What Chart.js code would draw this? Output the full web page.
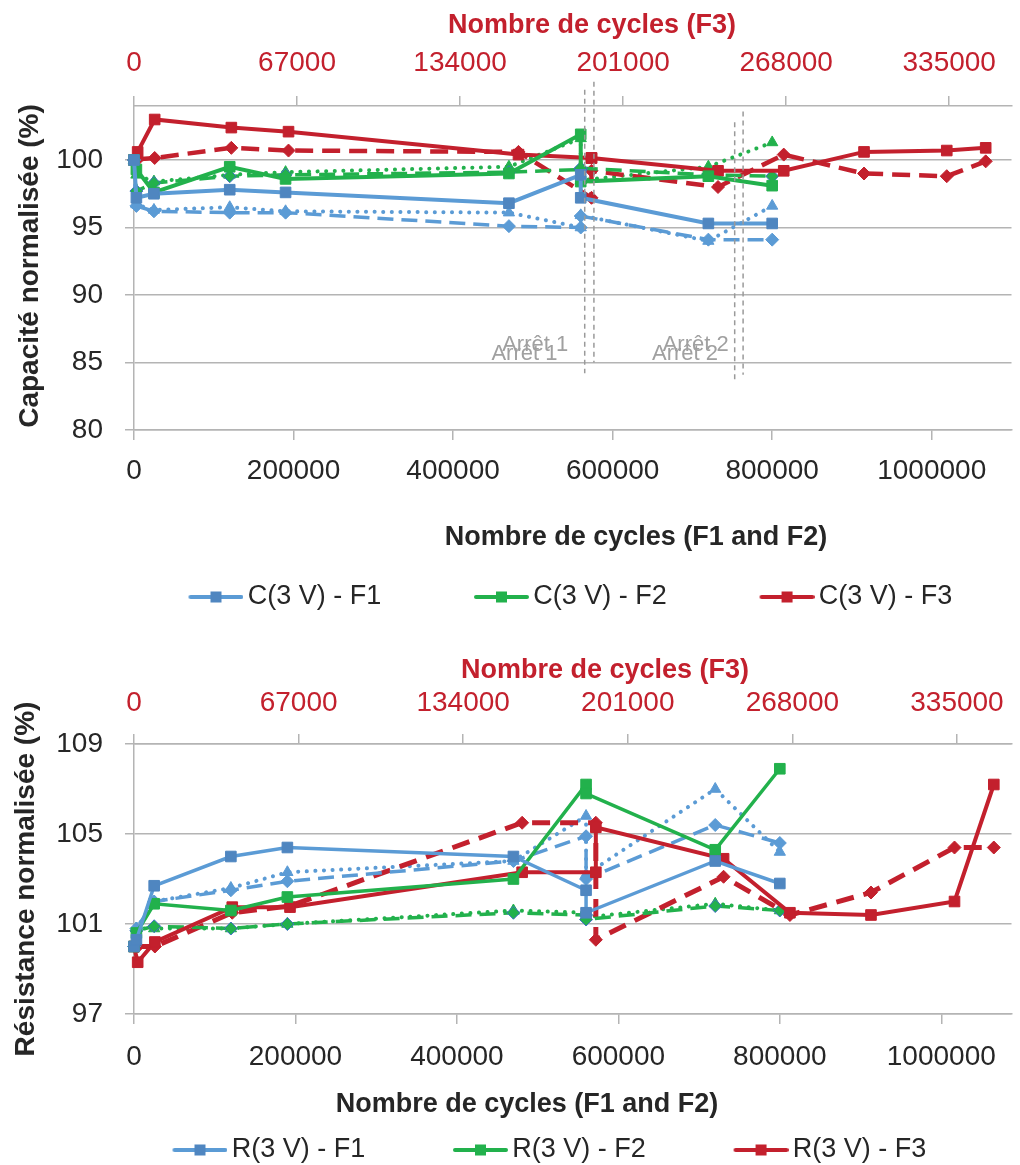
<!DOCTYPE html>
<html>
<head>
<meta charset="utf-8">
<script src="https://cdn.jsdelivr.net/npm/chart.js@4.4.0/dist/chart.umd.min.js"></script>
<style>
  body { margin: 0; background: #fff; width: 1020px; height: 1165px; overflow: hidden; position: relative; }
  canvas { position: absolute; left: 0; }
  #capChart { top: 0; }
  #resChart { top: 640px; }
</style>
</head>
<body>
<canvas id="capChart" width="1020" height="640"></canvas>
<canvas id="resChart" width="1020" height="540"></canvas>
<script>
const FONT = "'Liberation Sans', Arial, sans-serif";
const RED = '#c3202d', BLUE = '#5b9bd5', BLUE_M = '#4f86c0', GREEN = '#22b14c';
const GRID = '#b4b4b4', TXT = '#262626';

// cycles (x values)
const cyclesF12 = [0, 3000, 25000, 120000, 190000, 470000, 560000, 560000, 720000, 800000];
const cyclesF3 = [0, 1500, 8500, 40000, 63500, 158000, 188000, 188000, 240000, 267000, 300000, 334000, 350000];

// tick labels
const ticksF12 = [0, 200000, 400000, 600000, 800000, 1000000];
const ticksF3 = [0, 67000, 134000, 201000, 268000, 335000];
const ticksCap = [80, 85, 90, 95, 100];
const ticksRes = [97, 101, 105, 109];

// capacity (%)
const capF1 = [100, 97.2, 97.5, 97.8, 97.6, 96.8, 98.9, 97.2, 95.3, 95.3];
const capF1dot = [100, 96.7, 96.3, 96.5, 96.2, 96.1, 95.0, 95.9, 94.0, 96.6];
const capF1dash = [100, 96.6, 96.2, 96.1, 96.1, 95.1, 95.0, 95.85, 94.1, 94.1];
const capF2 = [100, 99.3, 97.6, 99.5, 98.6, 99.0, 101.9, 98.4, 98.8, 98.1];
const capF2dot = [100, 98.9, 98.4, 98.9, 99.1, 99.5, 101.6, 98.5, 99.5, 101.3];
const capF2dash = [100, 97.7, 98.3, 98.8, 98.9, 99.1, 99.3, 99.4, 98.9, 98.8];
const capF3 = [100, 100.6, 103.0, 102.4, 102.1, 100.4, 100.15, 100.15, 99.2, 99.2, 100.6, 100.7, 100.9];
const capF3dash = [100, 100.05, 100.15, 100.9, 100.7, 100.6, 97.2, 99.2, 98.0, 100.4, 99.0, 98.8, 99.9];

// resistance (%)
const resF1 = [100, 100.3, 102.7, 104.0, 104.4, 104.0, 102.5, 101.5, 103.8, 102.8];
const resF1dot = [100, 100.8, 102.0, 102.6, 103.3, 103.8, 105.8, 103.2, 107.0, 104.2];
const resF1dash = [100, 100.8, 102.0, 102.5, 102.9, 103.8, 104.9, 103.0, 105.4, 104.6];
const resF2 = [100, 100.6, 101.9, 101.6, 102.2, 103.0, 107.2, 106.8, 104.3, 107.9];
const resF2dot = [100, 100.8, 100.8, 100.8, 101.0, 101.6, 101.5, 101.3, 101.9, 101.6];
const resF2dash = [100, 100.7, 100.9, 100.8, 101.0, 101.5, 101.4, 101.2, 101.8, 101.6];
const resF3 = [100.0, 99.3, 100.2, 101.75, 101.75, 103.3, 103.3, 105.3, 103.9, 101.5, 101.4, 102.0, 107.2];
const resF3dash = [100.0, 100.0, 100.0, 101.5, 101.8, 105.5, 105.5, 100.3, 103.1, 101.4, 102.4, 104.4, 104.4];

// arrêts (stops) on the capacity chart
const arretNames = ['Arrêt 1', 'Arrêt 2'];
const arretF12 = [565000, 753000];
const arretF3 = [189000, 250300];
const arretTopF12 = [105.2, 102.8], arretBotF12 = [84.2, 83.5];
const arretTopF3 = [105.8, 103.6], arretBotF3 = [85.0, 84.1];
const arretLabelF12 = [489400, 690700], arretLabelF3 = [164850, 230800];
const arretLabelY = [85.6, 86.3];

// excel-like legend sample: line with a square, right part of a wider box
function legendIcon(boxW, lineColor, boxColor) {
  const c = document.createElement('canvas');
  const w = Math.round(boxW + 18);
  c.width = w; c.height = 14;
  const g = c.getContext('2d');
  g.strokeStyle = lineColor; g.lineWidth = 4; g.lineCap = 'round';
  g.beginPath(); g.moveTo(w - 53, 7); g.lineTo(w - 2, 7); g.stroke();
  g.fillStyle = boxColor; g.fillRect(w - 27.5 - 5.5, 1.5, 11, 11);
  return c;
}

function serie(label, xs, ys, axis, style) {
  return Object.assign({
    label: label,
    data: xs.map((x, i) => ({ x: x, y: ys[i] })),
    xAxisID: axis, yAxisID: 'y',
    borderWidth: 4, tension: 0, clip: false,
    pointStyle: 'rect', pointRadius: 7.5, pointBorderWidth: 1
  }, style);
}

const solid = (c, m) => ({ borderColor: c, pointBackgroundColor: m, pointBorderColor: m, order: 0 });
const dotted = c => ({ borderColor: c, pointBackgroundColor: c, pointBorderColor: c, borderDash: [0.1, 8.5], borderCapStyle: 'round',
  borderWidth: 4, pointStyle: 'triangle', pointRadius: 6.5, order: 5 });
const dashed = (c, b) => ({ borderColor: c, pointBackgroundColor: c, pointBorderColor: b || c, borderDash: [16, 8],
  borderWidth: 3.5, pointStyle: 'rectRot', pointRadius: 6.5, order: 4 });

// titles drawn at fixed places, like the Excel layout
const titlesPlugin = {
  id: 'titles',
  afterDraw(chart, args, opts) {
    const ctx = chart.ctx;
    (opts.items || []).forEach(t => {
      ctx.save();
      ctx.font = 'bold ' + t.size + 'px ' + FONT;
      ctx.fillStyle = t.color;
      ctx.textAlign = 'center';
      ctx.textBaseline = 'alphabetic';
      ctx.translate(t.x, t.y);
      if (t.rotate) ctx.rotate(-Math.PI / 2);
      ctx.fillText(t.text, 0, 0);
      ctx.restore();
    });
  }
};

const arretPlugin = {
  id: 'arrets',
  afterDatasetsDraw(chart, args, opts) {
    if (!opts.show) return;
    const { ctx, scales } = chart;
    ctx.save();
    ctx.strokeStyle = '#9a9a9a';
    ctx.lineWidth = 1.5;
    ctx.setLineDash([5, 4]);
    arretNames.forEach((n, i) => {
      [[scales.x, arretF12[i], arretTopF12[i], arretBotF12[i]], [scales.x2, arretF3[i], arretTopF3[i], arretBotF3[i]]]
        .forEach(([sc, v, t, b]) => {
          const px = sc.getPixelForValue(v);
          ctx.beginPath();
          ctx.moveTo(px, scales.y.getPixelForValue(t));
          ctx.lineTo(px, scales.y.getPixelForValue(b));
          ctx.stroke();
        });
    });
    ctx.setLineDash([]);
    ctx.font = '22px ' + FONT;
    ctx.fillStyle = '#a0a0a0';
    ctx.textAlign = 'center';
    arretNames.forEach((n, i) => {
      ctx.fillText(n, scales.x.getPixelForValue(arretLabelF12[i]), scales.y.getPixelForValue(arretLabelY[0]));
      ctx.fillText(n, scales.x2.getPixelForValue(arretLabelF3[i]), scales.y.getPixelForValue(arretLabelY[1]));
    });
    ctx.restore();
  }
};

function makeChart(id, cfg) {
  const tickFont = { family: FONT, size: 28 };
  return new Chart(document.getElementById(id), {
    type: 'line',
    data: { datasets: cfg.datasets },
    options: {
      responsive: false,
      animation: false,
      events: [],
      layout: { padding: { left: 50, right: 0, top: 0, bottom: cfg.bottom } },
      scales: {
        x: {
          type: 'linear', position: 'bottom', min: 0, max: cfg.maxF12,
          afterBuildTicks: s => { s.ticks = ticksF12.map(v => ({ value: v })); },
          afterFit: s => { s.height = cfg.xHeight; },
          ticks: { font: tickFont, color: TXT, padding: cfg.xPad, maxRotation: 0, autoSkip: false, callback: v => String(v) },
          grid: { drawOnChartArea: false, tickLength: 10, color: GRID, lineWidth: 1.5 },
          border: { color: GRID, width: 1.5 }
        },
        x2: {
          type: 'linear', position: 'top', min: 0, max: cfg.maxF3,
          afterBuildTicks: s => { s.ticks = ticksF3.map(v => ({ value: v })); },
          afterFit: s => { s.height = cfg.topHeight; },
          ticks: { font: tickFont, color: RED, padding: cfg.x2Pad, maxRotation: 0, autoSkip: false, callback: v => String(v) },
          grid: { drawOnChartArea: false, tickLength: 10, color: GRID, lineWidth: 1.5 },
          border: { color: GRID, width: 1.5 }
        },
        y: {
          min: cfg.yMin, max: cfg.yMax,
          afterBuildTicks: s => { s.ticks = cfg.yTicks.map(v => ({ value: v })); },
          afterFit: s => { s.width = 84; },
          ticks: { font: tickFont, color: TXT, padding: 22 },
          grid: { color: GRID, lineWidth: 1.5, tickLength: 9 },
          border: { color: GRID, width: 1.5 }
        }
      },
      plugins: {
        tooltip: { enabled: false },
        legend: {
          position: 'bottom',
          labels: {
            usePointStyle: true, pointStyleWidth: cfg.boxW,
            font: { family: FONT, size: 27 }, color: TXT, padding: cfg.legendPad,
            generateLabels(chart) {
              return Chart.defaults.plugins.legend.labels.generateLabels(chart)
                .filter(l => chart.data.datasets[l.datasetIndex].icon)
                .map(l => Object.assign(l, { pointStyle: chart.data.datasets[l.datasetIndex].icon }));
            }
          }
        },
        titles: { items: cfg.titles },
        arrets: { show: cfg.arrets }
      }
    },
    plugins: [titlesPlugin, arretPlugin]
  });
}

const capBox = 116.5, resBox = 74.5;

makeChart('capChart', {
  bottom: 19.5, legendPad: 22, boxW: capBox,
  topHeight: 106, xHeight: 131.5, xPad: 14, x2Pad: 16,
  maxF12: 1100000, maxF3: 360600, yMin: 80, yMax: 104, yTicks: ticksCap,
  arrets: true,
  titles: [
    { text: 'Nombre de cycles (F3)', x: 592, y: 33, size: 27, color: RED },
    { text: 'Nombre de cycles (F1 and F2)', x: 636, y: 545, size: 27, color: TXT },
    { text: 'Capacité normalisée (%)', x: 38, y: 266, size: 28, color: TXT, rotate: true }
  ],
  datasets: [
    serie('C(3 V) - F1', cyclesF12, capF1, 'x', Object.assign(solid(BLUE, BLUE_M), { icon: legendIcon(capBox, BLUE, BLUE_M) })),
    serie('C(3 V) - F2', cyclesF12, capF2, 'x', Object.assign(solid(GREEN, GREEN), { icon: legendIcon(capBox, GREEN, GREEN) })),
    serie('C(3 V) - F3', cyclesF3, capF3, 'x2', Object.assign(solid(RED, RED), { icon: legendIcon(capBox, RED, RED) })),
    serie('C F1 b', cyclesF12, capF1dot, 'x', dotted(BLUE)),
    serie('C F1 c', cyclesF12, capF1dash, 'x', dashed(BLUE)),
    serie('C F2 b', cyclesF12, capF2dot, 'x', dotted(GREEN)),
    serie('C F2 c', cyclesF12, capF2dash, 'x', dashed(GREEN, '#3f6fc6')),
    serie('C F3 c', cyclesF3, capF3dash, 'x2', Object.assign(dashed(RED), { borderDash: [18, 9], borderWidth: 4.5 }))
  ]
});

makeChart('resChart', {
  bottom: 6.5, legendPad: 59, boxW: resBox,
  topHeight: 104, xHeight: 63.5, xPad: 16, x2Pad: 14,
  maxF12: 1087000, maxF3: 357200, yMin: 97, yMax: 109, yTicks: ticksRes,
  arrets: false,
  titles: [
    { text: 'Nombre de cycles (F3)', x: 605, y: 38, size: 27, color: RED },
    { text: 'Nombre de cycles (F1 and F2)', x: 527, y: 472, size: 27, color: TXT },
    { text: 'Résistance normalisée (%)', x: 33.5, y: 239, size: 28, color: TXT, rotate: true }
  ],
  datasets: [
    serie('R(3 V) - F1', cyclesF12, resF1, 'x', Object.assign(solid(BLUE, BLUE_M), { icon: legendIcon(resBox, BLUE, BLUE_M), borderWidth: 3.5 })),
    serie('R(3 V) - F2', cyclesF12, resF2, 'x', Object.assign(solid(GREEN, GREEN), { icon: legendIcon(resBox, GREEN, GREEN), borderWidth: 3.5 })),
    serie('R(3 V) - F3', cyclesF3, resF3, 'x2', Object.assign(solid(RED, RED), { icon: legendIcon(resBox, RED, RED) })),
    serie('R F1 b', cyclesF12, resF1dot, 'x', dotted(BLUE)),
    serie('R F1 c', cyclesF12, resF1dash, 'x', dashed(BLUE)),
    serie('R F2 b', cyclesF12, resF2dot, 'x', dotted(GREEN)),
    serie('R F2 c', cyclesF12, resF2dash, 'x', dashed(GREEN, '#3f6fc6')),
    serie('R F3 c', cyclesF3, resF3dash, 'x2', Object.assign(dashed(RED), { borderDash: [18, 10], borderWidth: 5 }))
  ]
});
</script>
</body>
</html>
